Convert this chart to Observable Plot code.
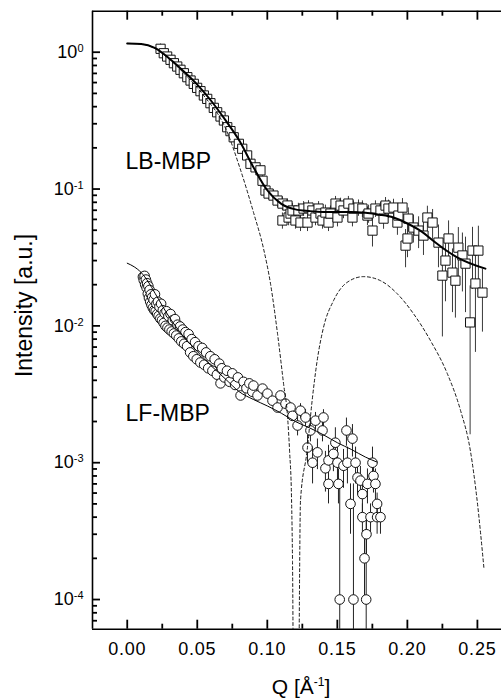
<!DOCTYPE html>
<html>
<head>
<meta charset="utf-8">
<script src="https://cdn.jsdelivr.net/npm/d3@7"></script>
<script src="https://cdn.jsdelivr.net/npm/@observablehq/plot@0.6"></script>
<style>
  html, body { margin: 0; padding: 0; background: #fff; }
  #chart svg { display: block; }
</style>
</head>
<body>
<div id="chart"></div>
<script>
// ---------- axis ticks ----------
const xMajor = [0, 0.05, 0.10, 0.15, 0.20, 0.25];
const xMinor = [0.025, 0.075, 0.125, 0.175, 0.225];
const yMajor = [1e-4, 1e-3, 1e-2, 1e-1, 1];
const yMinor = [7e-5, 8e-5, 9e-5,
  2e-4, 3e-4, 4e-4, 5e-4, 6e-4, 7e-4, 8e-4, 9e-4,
  2e-3, 3e-3, 4e-3, 5e-3, 6e-3, 7e-3, 8e-3, 9e-3,
  2e-2, 3e-2, 4e-2, 5e-2, 6e-2, 7e-2, 8e-2, 9e-2,
  0.2, 0.3, 0.4, 0.5, 0.6, 0.7, 0.8, 0.9];

// ---------- LB-MBP (squares) ----------
const lbQ = [0.0238,0.0261,0.0285,0.0309,0.0333,0.0357,0.0380,0.0404,0.0429,0.0452,
  0.0475,0.0499,0.0523,0.0547,0.0571,0.0594,0.0618,0.0642,0.0666,0.0690,
  0.0714,0.0737,0.0760,0.0797,0.0821,0.0856,0.0880,0.0916,0.0951,0.0966,
  0.0987,0.1009,0.1044,0.1073,0.1108,0.1108,0.1144,0.1152,0.1166,0.1180,
  0.1201,0.1222,0.1237,0.1259,0.1287,0.1294,0.1322,0.1344,0.1366,0.1380,
  0.1394,0.1415,0.1437,0.1451,0.1487,0.1501,0.1523,0.1544,0.1579,0.1608,
  0.1615,0.1651,0.1679,0.1715,0.1723,0.1751,0.1772,0.1808,0.1830,0.1844,
  0.1865,0.1901,0.1929,0.1936,0.1965,0.1987,0.2001,0.2007,0.2043,0.2080,
  0.2115,0.2143,0.2180,0.2222,0.2250,0.2272,0.2294,0.2322,0.2343,0.2364,
  0.2393,0.2415,0.2448,0.2465,0.2486,0.2507,0.2536];
const lbI = [1.059,0.983,0.930,0.880,0.831,0.786,0.744,0.702,0.657,0.621,
  0.587,0.549,0.519,0.483,0.456,0.424,0.392,0.364,0.339,0.317,
  0.283,0.265,0.239,0.214,0.197,0.176,0.153,0.144,0.137,0.115,
  0.0975,0.0927,0.0896,0.0824,0.0783,0.0589,0.0758,0.0619,0.0662,0.0697,
  0.0589,0.0697,0.0569,0.0720,0.0569,0.0732,0.0697,0.0619,0.0720,0.0662,
  0.0589,0.0673,0.0569,0.0662,0.0783,0.0619,0.0757,0.0697,0.0783,0.0619,
  0.0720,0.0732,0.0720,0.0640,0.0662,0.0497,0.0720,0.0697,0.0608,0.0757,
  0.0720,0.0732,0.0569,0.0640,0.0732,0.0386,0.0435,0.0608,0.0523,0.0497,
  0.0457,0.0619,0.0569,0.0406,0.0233,0.0300,0.0435,0.0245,0.0214,0.0373,
  0.0327,0.0285,0.0106,0.0355,0.0204,0.0355,0.0175];
const lbErr = [0.09,0.08,0.07,0.065,0.06,0.055,0.05,0.05,0.045,0.04,
  0.04,0.035,0.035,0.03,0.03,0.028,0.026,0.024,0.022,0.02,
  0.018,0.017,0.016,0.014,0.013,0.012,0.011,0.011,0.010,0.010,
  0.009,0.009,0.009,0.009,0.009,0.008,0.009,0.008,0.008,0.009,
  0.008,0.009,0.008,0.009,0.008,0.009,0.009,0.008,0.009,0.009,
  0.008,0.009,0.008,0.009,0.010,0.009,0.010,0.009,0.010,0.009,
  0.010,0.010,0.010,0.010,0.010,0.012,0.010,0.010,0.010,0.011,
  0.011,0.011,0.011,0.011,0.012,0.012,0.012,0.012,0.012,0.013,
  0.013,0.013,0.014,0.014,0.015,0.015,0.015,0.012,0.010,0.015,
  0.015,0.016,0.009,0.017,0.014,0.018,0.0085];

// ---------- LF-MBP (circles) ----------
const lfQ = [0.0112,0.0118,0.0124,0.0128,0.0133,0.0138,0.0142,0.0147,0.0151,0.0155,
  0.0160,0.0164,0.0169,0.0173,0.0178,0.0183,0.0188,0.0193,0.0198,0.0203,
  0.0208,0.0214,0.0219,0.0224,0.0230,0.0236,0.0242,0.0248,0.0254,0.0260,
  0.0267,0.0273,0.0280,0.0287,0.0294,0.0301,0.0309,0.0317,0.0325,0.0333,
  0.0341,0.0350,0.0359,0.0368,0.0377,0.0386,0.0396,0.0406,0.0416,0.0427,
  0.0438,0.0449,0.0460,0.0472,0.0484,0.0496,0.0509,0.0522,0.0535,0.0549,
  0.0563,0.0578,0.0593,0.0608,0.0624,0.0640,0.0657,0.0666,0.0675,0.0693,
  0.0712,0.0731,0.0750,0.0770,0.0790,0.0809,0.0830,0.0851,0.0872,0.0893,
  0.0901,0.0930,0.0966,0.1001,0.1037,0.1073,0.1094,0.1130,0.1166,0.1180,
  0.1216,0.1237,0.1273,0.1287,0.1308,0.1323,0.1344,0.1358,0.1394,0.1401,
  0.1415,0.1437,0.1437,0.1472,0.1486,0.1501,0.1508,0.1517,0.1544,0.1565,
  0.1572,0.1594,0.1608,0.1615,0.1630,0.1644,0.1665,0.1679,0.1679,0.1694,
  0.1706,0.1708,0.1715,0.1737,0.1751,0.1758,0.1772,0.1784,0.1784,0.1808];
const lfI = [0.0228,0.0215,0.0232,0.0200,0.0218,0.0190,0.0205,0.0172,0.0195,0.0160,
  0.0183,0.0150,0.0170,0.0142,0.0162,0.0135,0.0155,0.0130,0.0170,0.0128,
  0.0145,0.0122,0.0150,0.0118,0.0138,0.0113,0.0145,0.0110,0.0130,0.0105,
  0.0124,0.0100,0.0128,0.0097,0.0118,0.0094,0.0122,0.0091,0.0110,0.0088,
  0.0112,0.0085,0.0102,0.0081,0.0099,0.0077,0.0094,0.0074,0.0090,0.0071,
  0.0087,0.0064,0.0080,0.0060,0.0076,0.0057,0.0071,0.0054,0.0069,0.0052,
  0.0064,0.0049,0.0060,0.0047,0.0057,0.0044,0.0053,0.0038,0.0049,0.0042,
  0.0047,0.0039,0.0045,0.0037,0.0042,0.0031,0.0039,0.0035,0.0038,0.0033,
  0.00366,0.00310,0.00348,0.00320,0.00284,0.00253,0.00310,0.00270,0.00253,0.00220,
  0.00187,0.00240,0.00214,0.00129,0.00172,0.00100,0.00203,0.00119,0.00172,0.00214,
  0.00091,0.00104,0.00070,0.00116,0.00140,0.00100,0.00070,0.0001,0.00095,0.00172,
  0.00100,0.00050,0.00150,0.0001,0.00100,0.00078,0.00074,0.00059,0.00040,0.00020,
  0.0001,0.00030,0.00070,0.00040,0.00100,0.00080,0.00070,0.00050,0.00040,0.00040];
const lfErr = [0.0009,0.0009,0.0009,0.0008,0.0009,0.0008,0.0008,0.0007,0.0008,0.0006,
  0.0007,0.0006,0.0007,0.0006,0.0006,0.0005,0.0006,0.0005,0.0007,0.0005,
  0.0006,0.0005,0.0006,0.0005,0.0005,0.0005,0.0006,0.0004,0.0005,0.0004,
  0.0005,0.0004,0.0005,0.0004,0.0005,0.0004,0.0005,0.0004,0.0004,0.0004,
  0.0004,0.0003,0.0004,0.0003,0.0004,0.0003,0.0004,0.0003,0.0004,0.0003,
  0.0003,0.0003,0.0003,0.0003,0.0003,0.0002,0.0003,0.0002,0.0003,0.0002,
  0.0003,0.0002,0.0003,0.0002,0.0002,0.0002,0.0002,0.0002,0.0002,0.0002,
  0.0002,0.0002,0.0002,0.0002,0.0002,0.0002,0.0002,0.0002,0.0002,0.0002,
  0.0002,0.0002,0.0002,0.0002,0.0002,0.0002,0.0002,0.0002,0.0002,0.0002,
  0.0003,0.0003,0.0003,0.0003,0.0003,0.0003,0.0003,0.0003,0.0003,0.0003,
  0.0003,0.0003,0.0002,0.0003,0.0004,0.0003,0.0002,0.0006,0.0003,0.0004,
  0.0003,0.0002,0.0004,0.0006,0.0003,0.0002,0.0002,0.0002,0.0001,0.0001,
  0.0003,0.0001,0.0002,0.0001,0.0003,0.0002,0.0002,0.0001,0.0001,0.0001];

// ---------- fits ----------
const lbFitQ = [0,0.01,0.02,0.03,0.04,0.05,0.06,0.07,0.08,0.09,
  0.10,0.11,0.12,0.13,0.14,0.15,0.16,0.17,0.18,0.19,
  0.20,0.21,0.2184,0.227,0.2355,0.2557];
const lbFitI = [1.16,1.15,1.07,0.90,0.73,0.58,0.44,0.32,0.226,0.145,
  0.098,0.078,0.071,0.069,0.068,0.068,0.068,0.067,0.065,0.062,
  0.056,0.049,0.0419,0.036,0.0317,0.0262];

const lfFitQ = [0,0.005,0.01,0.015,0.02,0.03,0.04,0.05,0.06,0.07,
  0.08,0.09,0.10,0.11,0.12,0.13,0.14,0.15,0.16,0.17,0.1784];
const lfFitI = [0.0287,0.0270,0.0245,0.0210,0.0172,0.0116,0.0084,0.0065,0.0051,0.0041,
  0.0033,0.0029,0.0026,0.0023,0.0020,0.0018,0.0016,0.0014,0.00125,0.0011,0.00101];

// dashed form-factor curve (two lobes, drops through zero near Q≈0.12)
const formQ = [0,0.0095,0.0202,0.03,0.04,0.05,0.06,0.065,0.0699,0.0802,
  0.0902,0.0973,0.1023,0.1073,0.1116,0.1145,0.1159,0.1173,0.1180,0.1195,
  0.1213,0.1237,0.1284,0.1320,0.1356,0.1401,0.1473,0.1570,0.1687,0.1808,
  0.1927,0.2043,0.2165,0.2285,0.2380,0.2450,0.2498,0.2546];
const formI = [1.16,1.15,1.06,0.89,0.71,0.55,0.41,0.35,0.282,0.145,
  0.0672,0.0367,0.0203,0.00877,0.00378,0.00214,0.00122,0.000546,0.00019,0.000001,
  0.000001,0.000528,0.00122,0.00284,0.00557,0.00972,0.0153,0.0208,0.0229,0.0214,
  0.0172,0.0123,0.0078,0.00448,0.0024,0.00122,0.00053,0.000172];

// ---------- annotations ----------
const labelText = ["LB-MBP", "LF-MBP"];
const labelQ = [-0.0012, -0.0012];
const labelI = [0.159, 0.0023];

// ---------- build tables ----------
const lb = lbQ.map((q, i) => ({q, v: lbI[i], lo: Math.max(lbI[i] - lbErr[i], 1e-7), hi: lbI[i] + lbErr[i]}));
const lf = lfQ.map((q, i) => ({q, v: lfI[i], lo: Math.max(lfI[i] - lfErr[i], 1e-7), hi: lfI[i] + lfErr[i]}));
const lbFit = lbFitQ.map((q, i) => ({q, v: lbFitI[i]}));
const lfFit = lfFitQ.map((q, i) => ({q, v: lfFitI[i]}));
const form = formQ.map((q, i) => ({q, v: formI[i]}));
const labels = labelText.map((t, i) => ({t, q: labelQ[i], v: labelI[i]}));

const W = 501, H = 699, mL = 92, mR = 0, mT = 10.7, mB = 70.3;
const xDom = [-0.0248, 0.2672];
const yDom = [6.07e-5, 1.994];
const FONT = "'Liberation Sans', Arial, Helvetica, sans-serif";

const plot = Plot.plot({
  width: W, height: H,
  marginLeft: mL, marginRight: mR, marginTop: mT, marginBottom: mB,
  style: {fontFamily: FONT, background: "#fff", color: "#000", overflow: "visible"},
  x: {domain: xDom},
  y: {type: "log", domain: yDom},
  marks: [
    // error bars
    Plot.ruleX(lb, {x: "q", y1: "lo", y2: "hi", stroke: "#3a3a3a", strokeWidth: 1, clip: true}),
    Plot.ruleX(lf, {x: "q", y1: "lo", y2: "hi", stroke: "#222", strokeWidth: 1, clip: true}),
    // symbols
    Plot.dot(lb, {x: "q", y: "v", symbol: "square", r: 5.2, fill: "white", stroke: "#111", strokeWidth: 1}),
    Plot.dot(lf, {x: "q", y: "v", symbol: "circle", r: 4.8, fill: "white", stroke: "#111", strokeWidth: 1}),
    // fits
    Plot.line(lbFit, {x: "q", y: "v", stroke: "black", strokeWidth: 2, curve: "monotone-x", clip: true}),
    Plot.line(lfFit, {x: "q", y: "v", stroke: "black", strokeWidth: 1, curve: "monotone-x", clip: true}),
    Plot.line(form, {x: "q", y: "v", stroke: "black", strokeWidth: 0.9, strokeDasharray: "3,2.6", curve: "monotone-x", clip: true}),
    // annotations
    Plot.text(labels, {x: "q", y: "v", text: "t", textAnchor: "start", lineAnchor: "middle", fontSize: 23, fill: "black"}),
    // frame lines (left, bottom, top)
    Plot.ruleX([xDom[0]], {stroke: "black", strokeWidth: 1.6}),
    Plot.ruleY([yDom[0]], {stroke: "black", strokeWidth: 1.6}),
    Plot.ruleY([yDom[1]], {stroke: "black", strokeWidth: 1.6}),
    // inward tick marks (bottom, top, left)
    Plot.tickX(xMajor, {x: d => d, insetTop: 609, stroke: "black", strokeWidth: 1.8}),
    Plot.tickX(xMinor, {x: d => d, insetTop: 613, stroke: "black", strokeWidth: 1.8}),
    Plot.tickX(xMajor, {x: d => d, insetBottom: 609, stroke: "black", strokeWidth: 1.8}),
    Plot.tickX(xMinor, {x: d => d, insetBottom: 613, stroke: "black", strokeWidth: 1.8}),
    Plot.tickY(yMajor, {y: d => d, insetRight: 401, stroke: "black", strokeWidth: 1.8}),
    Plot.tickY(yMinor, {y: d => d, insetRight: 404, stroke: "black", strokeWidth: 1.8}),
    // tick labels
    Plot.axisX(xMajor, {tickSize: 0, tickPadding: 13, tickFormat: d3.format(".2f"), label: null, fontSize: 18}),
    Plot.axisY(yMajor, {tickSize: 0, tickPadding: 9, tickFormat: d => "10^" + Math.round(Math.log10(d)), label: null, fontSize: 18})
  ]
});

const svg = d3.select(plot);
// superscript exponents on the y tick labels
svg.selectAll('g[aria-label="y-axis tick label"] text').each(function () {
  const parts = this.textContent.split("^");
  const s = d3.select(this);
  s.text(parts[0]);
  s.append("tspan").attr("dy", -6).attr("font-size", 11).text(parts[1]);
});
svg.selectAll('g[aria-label="x-axis tick label"] text').attr("letter-spacing", 0.8);

// axis titles
const xt = svg.append("text")
  .attr("x", 301).attr("y", 694)
  .attr("text-anchor", "middle").attr("font-size", 21).attr("fill", "black")
  .attr("font-family", FONT);
xt.append("tspan").text("Q [Å");
xt.append("tspan").attr("dy", -8).attr("font-size", 12).text("-1");
xt.append("tspan").attr("dy", 8).text("]");

svg.append("text")
  .attr("transform", "translate(31.5,305.5) rotate(-90)")
  .attr("text-anchor", "middle").attr("font-size", 23).attr("fill", "black")
  .attr("font-family", FONT)
  .text("Intensity [a.u.]");

document.getElementById("chart").appendChild(plot);
</script>
</body>
</html>
